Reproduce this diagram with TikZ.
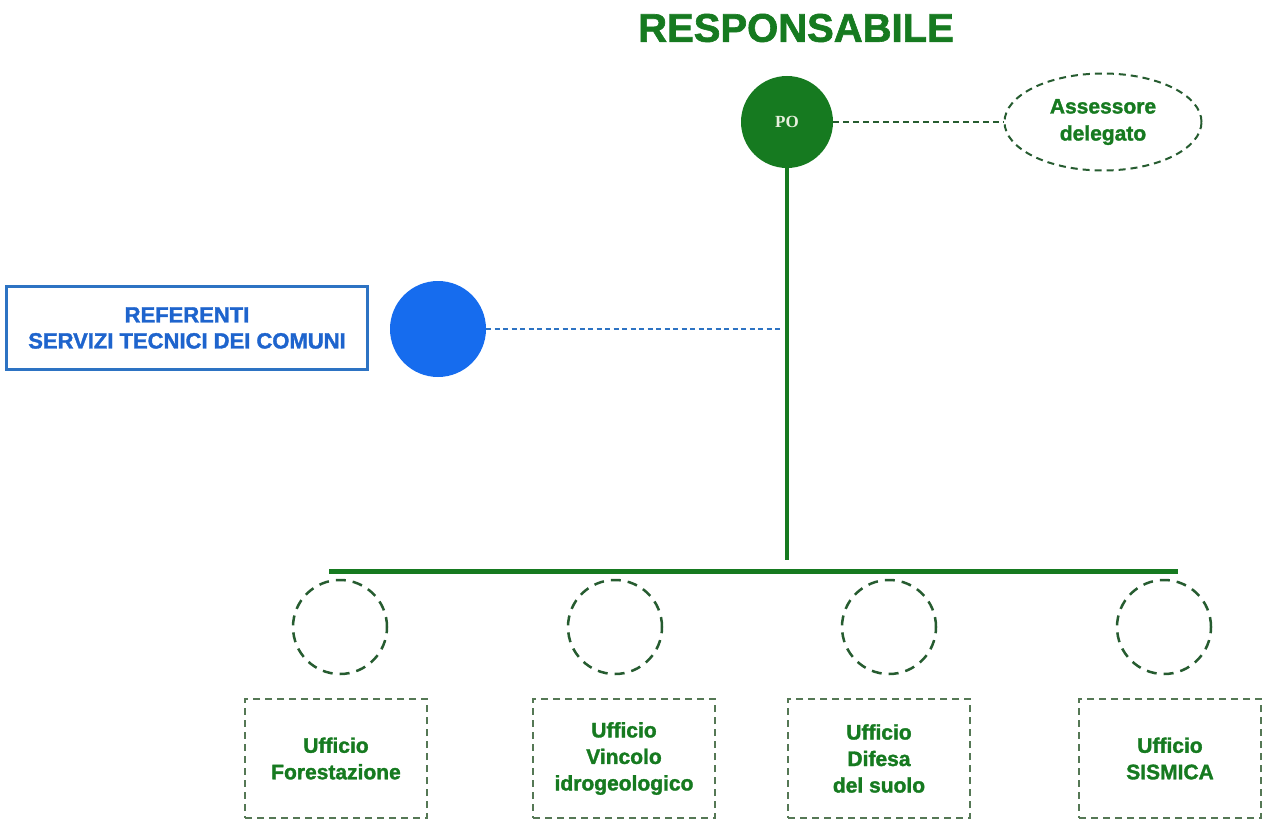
\documentclass[tikz,border=0pt]{standalone}
\usepackage{fontspec}
\setmainfont{Liberation Sans}
\newfontfamily\pesante[FakeBold=1.6]{Liberation Sans Bold}
\newfontfamily\serifpo{Liberation Serif}
\usetikzlibrary{%
	shapes.geometric%
}
\definecolor{verde}{RGB}{22,122,32}
\definecolor{verdescuro}{RGB}{38,92,48}
\definecolor{grigioverde}{RGB}{85,120,85}
\definecolor{blu}{RGB}{22,108,238}
\definecolor{blutesto}{RGB}{30,100,205}
\definecolor{blubordo}{RGB}{45,115,195}
\tikzset{
	uff/.style={draw=grigioverde, line width=2pt, dash pattern=on 7pt off 5pt,
		minimum width=182pt, minimum height=119pt, inner sep=0pt, align=center,
		text=verde, font=\pesante\fontsize{21}{26.5}\selectfont},
	vuoto/.style={circle, draw=verdescuro, line width=2.5pt,
		dash pattern=on 10pt off 7pt, minimum size=94pt, inner sep=0pt}
}

\begin{document}
\begin{tikzpicture}[x=1pt,y=-1pt]
		\useasboundingbox (0,0) rectangle (1266,821);
		\node[text=verde, font=\pesante\fontsize{40}{44}\selectfont] (titolo) at (796,28) {RESPONSABILE};
		\node[circle, fill=verde, minimum size=92pt, inner sep=0pt, text={rgb,255:red,232;green,240;blue,222}, font=\serifpo\fontsize{17}{20}\selectfont\bfseries] (PO) at (787,122) {PO};
		\node[ellipse, draw=verdescuro, line width=2pt, dash pattern=on 7pt off 5pt, minimum width=197pt, minimum height=97pt, inner sep=0pt, align=center, text=verde, font=\pesante\fontsize{21}{27}\selectfont] (ass) at (1103,122) {Assessore\\delegato};
		\node[draw=blubordo, line width=2.5pt, minimum width=361pt, minimum height=83pt, inner sep=0pt, align=center, text=blutesto, font=\pesante\fontsize{22}{26}\selectfont] (ref) at (187,328) {REFERENTI\\SERVIZI TECNICI DEI COMUNI};
		\node[circle, fill=blu, minimum size=96pt, inner sep=0pt] (blu) at (438,329) {};
		\coordinate (fine) at (787,560);
		\coordinate (incrocio) at (783,329);
		\coordinate (busL) at (329,571);
		\coordinate (busR) at (1178,571);
		\draw[verdescuro, line width=2pt, dash pattern=on 6pt off 4pt] (PO.east) -- (ass.west);
		\draw[verde, line width=4pt] (PO.south) -- (fine);
		\draw[blubordo, line width=1.6pt, dash pattern=on 5pt off 3.5pt] (blu.east) -- (incrocio);
		\draw[verde, line width=5pt] (busL) -- (busR);
		\node[vuoto] (c1) at (340,627) {};
		\node[vuoto] (c2) at (615,627) {};
		\node[vuoto] (c3) at (889,627) {};
		\node[vuoto] (c4) at (1164,627) {};
		\node[uff] (u1) at (336,758.5) {Ufficio\\Forestazione};
		\node[uff] (u2) at (624,758.5) {Ufficio\\Vincolo\\idrogeologico};
		\node[uff] (u3) at (879,758.5) {Ufficio\\Difesa\\del suolo};
		\node[uff] (u4) at (1170,758.5) {Ufficio\\SISMICA};
	\end{tikzpicture}
\end{document}
